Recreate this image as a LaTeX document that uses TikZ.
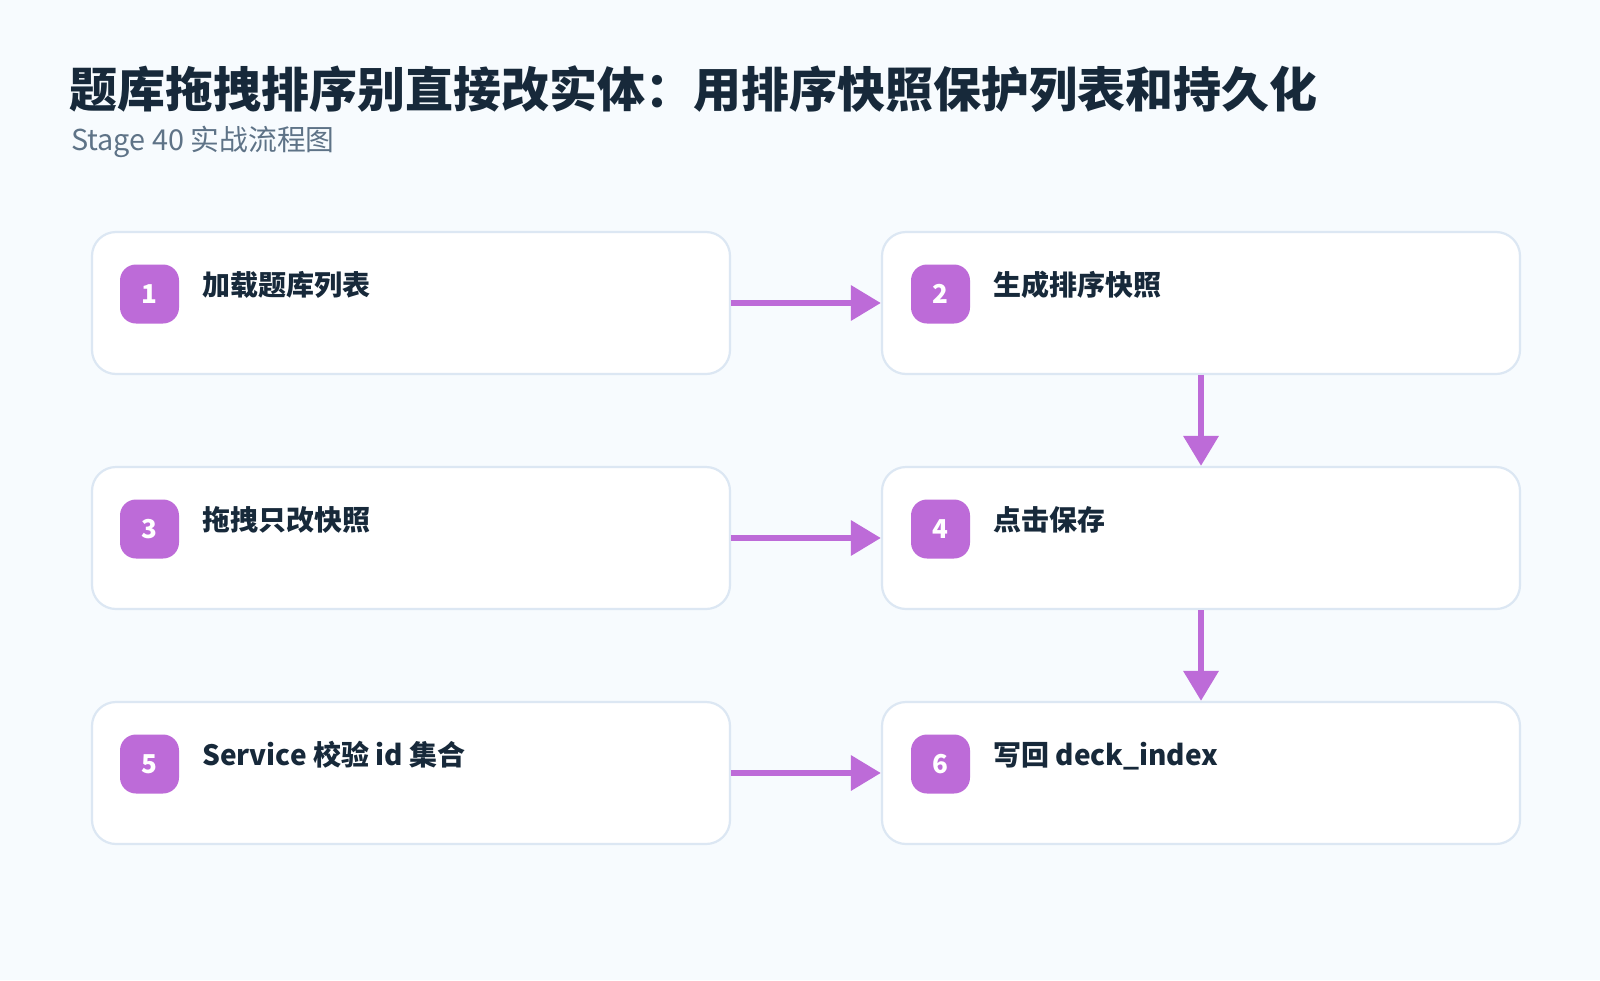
\documentclass[tikz,border=0pt]{standalone}
\usepackage{fontspec}
\setmainfont{Noto Sans CJK SC}
\usepackage{tikz}
\usetikzlibrary{arrows.meta,positioning}

\definecolor{pagebg}{HTML}{F7FBFE}
\definecolor{cardline}{HTML}{DCE7F3}
\definecolor{stepcol}{HTML}{BD6BD8}
\definecolor{ink}{HTML}{17293A}
\definecolor{subink}{HTML}{5E7387}

\begin{document}
\begin{tikzpicture}[x=1pt, y=-1pt,
card/.style={rectangle, draw=cardline, line width=2.2pt, fill=white, rounded corners=24pt, minimum width=638pt, minimum height=142pt},
badge/.style={rectangle, fill=stepcol, rounded corners=16pt, minimum width=59pt, minimum height=59pt, inner sep=0pt, text=white, font=\fontsize{26}{30}\selectfont\bfseries},
steptext/.style={anchor=base west, inner sep=0pt, text=ink, font=\fontsize{28}{34}\selectfont\bfseries},
flow/.style={-{Triangle[length=30pt,width=34pt]}, line width=6.5pt, draw=stepcol}
]
% page
\fill[pagebg] (0,0) rectangle (1600,980);
\useasboundingbox (0,0) rectangle (1600,980);

\node[anchor=base west, inner sep=0pt, text=ink, font=\fontsize{48}{56}\selectfont\bfseries] (title) at (69,107) {题库拖拽排序别直接改实体：用排序快照保护列表和持久化};
\node[anchor=base west, inner sep=0pt, text=subink, font=\fontsize{28.8}{34}\selectfont] (subtitle) at (71,150) {Stage 40 实战流程图};

% cards
\node[card] (load) at (411,303) {};
\node[card] (snap) at (1201,303) {};
\node[card] (drag) at (411,538) {};
\node[card] (save) at (1201,538) {};
\node[card] (check) at (411,773) {};
\node[card] (write) at (1201,773) {};

% step numbers
\node[badge] (n1) at (149.5,294) {1};
\node[badge] (n2) at (940.5,294) {2};
\node[badge] (n3) at (149.5,529) {3};
\node[badge] (n4) at (940.5,529) {4};
\node[badge] (n5) at (149.5,764) {5};
\node[badge] (n6) at (940.5,764) {6};

% step texts
\node[steptext] (t1) at (202,295) {加载题库列表};
\node[steptext] (t2) at (993,295) {生成排序快照};
\node[steptext] (t3) at (202,530) {拖拽只改快照};
\node[steptext] (t4) at (993,530) {点击保存};
\node[steptext] (t5) at (202,765) {Service 校验 id 集合};
\node[steptext] (t6) at (993,765) {写回 deck\_index};

\draw[flow] (load) -- (snap);
\draw[flow] (snap) -- (save);
\draw[flow] (drag) -- (save);
\draw[flow] (save) -- (write);
\draw[flow] (check) -- (write);
\end{tikzpicture}
\end{document}
